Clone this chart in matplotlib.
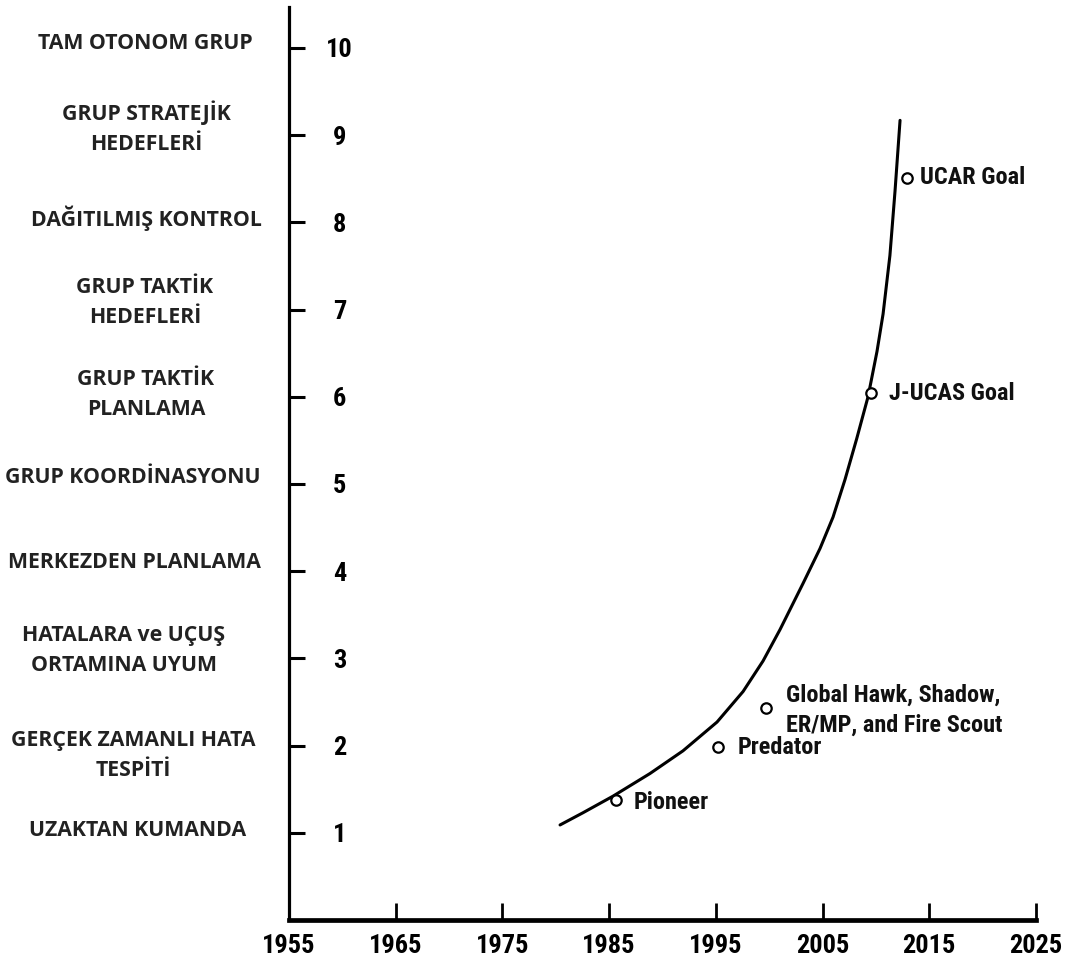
import matplotlib
matplotlib.use("Agg")
import matplotlib.pyplot as plt
import matplotlib.transforms as mtransforms
from matplotlib import font_manager as fm

# ---- data ----
years_ticks = [1955, 1965, 1975, 1985, 1995, 2005, 2015, 2025]
levels = [1, 2, 3, 4, 5, 6, 7, 8, 9, 10]
level_names = [
    "UZAKTAN KUMANDA",
    "GERÇEK ZAMANLI HATA\nTESPİTİ",
    "HATALARA ve UÇUŞ\nORTAMINA UYUM",
    "MERKEZDEN PLANLAMA",
    "GRUP KOORDİNASYONU",
    "GRUP TAKTİK\nPLANLAMA",
    "GRUP TAKTİK\nHEDEFLERİ",
    "DAĞITILMIŞ KONTROL",
    "GRUP STRATEJİK\nHEDEFLERİ",
    "TAM OTONOM GRUP",
]

curve_years = [1980.40, 1982.55, 1985.36, 1988.83, 1991.92, 1995.11, 1997.55,
               1999.42, 2001.01, 2003.17, 2004.76, 2005.98, 2007.10, 2008.20,
               2009.26, 2010.10, 2010.67, 2011.31, 2011.79, 2012.26]
curve_values = [1.09, 1.23, 1.42, 1.68, 1.94, 2.27, 2.62,
                2.97, 3.33, 3.86, 4.26, 4.62, 5.05, 5.52,
                6.00, 6.52, 6.95, 7.62, 8.36, 9.17]

sys_names = ["Pioneer", "Predator", "Global Hawk, Shadow,\nER/MP, and Fire Scout",
             "J-UCAS Goal", "UCAR Goal"]
sys_years = [1985.6, 1995.2, 1999.7, 2009.5, 2012.9]
sys_values = [1.38, 1.98, 2.43, 6.04, 8.51]


# ---- fonts ----
def pick_condensed_bold():
    prefer = ["Liberation Sans Narrow", "Arial Narrow", "Roboto Condensed",
              "Open Sans Condensed", "Noto Sans", "Open Sans", "Roboto",
              "DejaVu Sans"]
    best = None
    for f in fm.fontManager.ttflist:
        w = f.weight if isinstance(f.weight, int) else fm.weight_dict.get(f.weight, 400)
        narrow = ("Narrow" in f.name or "Condensed" in f.name
                  or f.stretch in ("condensed", "semi-condensed", "extra-condensed",
                                   "ultra-condensed") or
                  (isinstance(f.stretch, int) and f.stretch < 500))
        if not narrow or w < 600 or "Italic" in f.fname or f.style != "normal":
            continue
        rank = prefer.index(f.name) if f.name in prefer else len(prefer)
        if best is None or rank < best[0]:
            best = (rank, f)
    if best is None:
        return fm.FontProperties(family="Liberation Sans", weight="bold"), False
    return fm.FontProperties(fname=best[1].fname), True


cond_fp, is_cond = pick_condensed_bold()
num_size = 19 if is_cond else 16.5
ann_size = 17.5 if is_cond else 15

# ---- layout ----
W, H, DPI = 1070, 967, 100
fig = plt.figure(figsize=(W / DPI, H / DPI), dpi=DPI)
ax_l, ax_r, ax_b, ax_t = 289, 1036, 920, 7
ax = fig.add_axes([ax_l / W, 1 - ax_b / H, (ax_r - ax_l) / W, (ax_b - ax_t) / H])

ax.plot(curve_years, curve_values, color="black", lw=2.2,
        solid_capstyle="round", solid_joinstyle="round", zorder=2)
ax.plot(sys_years, sys_values, linestyle="none", marker="o", markersize=7.5,
        markerfacecolor="white", markeredgecolor="black", markeredgewidth=1.6, zorder=3)

text_offsets = [(18, -3), (20, 0), (20, -2), (18, 0), (13, 0)]
for name, x, y, off in zip(sys_names, sys_years, sys_values, text_offsets):
    fp = cond_fp.copy()
    fp.set_size(ann_size)
    ax.annotate(name, (x, y), xytext=off, textcoords="offset pixels",
                ha="left", va="center", fontproperties=fp,
                linespacing=1.4, color="#111111")

ax.set_xlim(1955, 2025)
ax.set_ylim(0, 10.47)

for s in ["top", "right"]:
    ax.spines[s].set_visible(False)
ax.spines["left"].set_linewidth(2.3)
ax.spines["bottom"].set_linewidth(3.4)

num_fp = cond_fp.copy()
num_fp.set_size(num_size)

ax.set_xticks(years_ticks)
ax.set_xticklabels([str(y) for y in years_ticks], fontproperties=num_fp)
ax.tick_params(axis="x", direction="in", length=12, width=2.0, pad=10)

ax.set_yticks(levels)
ax.set_yticklabels([str(v) for v in levels], fontproperties=num_fp, ha="center")
ax.tick_params(axis="y", direction="in", length=11.5, width=2.2, pad=-36.5)

# category names on the left
name_cx = [138, 133, 124, 134, 133, 146, 145, 146, 146, 145]
name_dy = [0.03, -0.11, 0.09, 0.10, 0.07, 0.03, 0.08, 0.05, 0.09, 0.05]
trans = mtransforms.blended_transform_factory(fig.transFigure, ax.transData)
for name, lev, cx, dy in zip(level_names, levels, name_cx, name_dy):
    fig.text(cx / W, lev + dy, name, transform=trans, ha="center", va="center",
             fontsize=15.3, fontweight="bold", family=["Open Sans", "DejaVu Sans"],
             fontstretch="normal", linespacing=1.55, color="#222222")

fig.savefig("out.png", dpi=DPI)
